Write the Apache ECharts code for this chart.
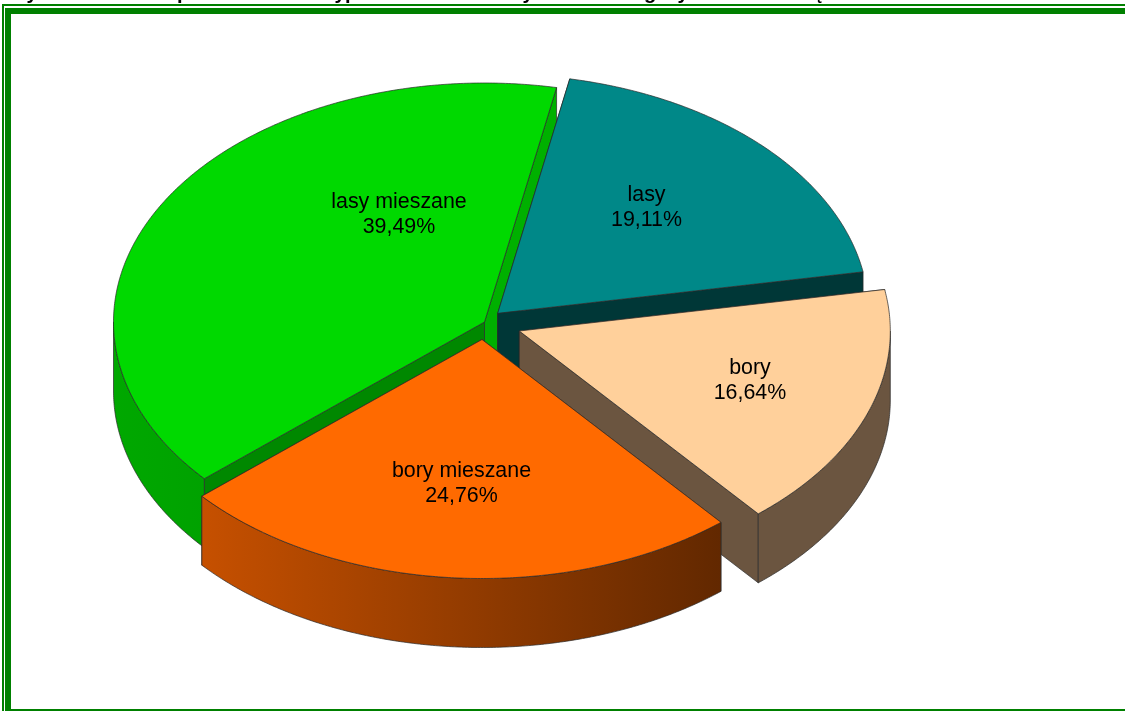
<!DOCTYPE html>
<html>
<head>
<meta charset="utf-8">
<style>html,body{margin:0;padding:0;background:#fff}#c{width:1125px;height:711px}</style>
<script src="https://cdn.jsdelivr.net/npm/echarts@6/dist/echarts.min.js"></script>
</head>
<body>
<div id="c"></div>
<script>
// DATA (clockwise, and also back-to-front drawing order)
const categories = ['lasy mieszane', 'lasy', 'bory', 'bory mieszane'];
const shares = [39.49, 19.11, 16.64, 24.76];

// Only the descender tips of the cropped heading are visible
const headingGlyphs = ['y', 'p', 'y', 'p', 'y', 'g', 'y', 'ę'];
const headingGlyphX = [32, 183, 340, 351, 528, 650, 683, 818];

// STYLE / LAYOUT
const firstSliceAngle = -130.96;
const radiusX = 371, radiusY = 239, depth = 69;
const sliceCenters = [[484.5, 322], [497.7, 313.3], [519.3, 331], [482, 339.5]];
const labelCenters = [[399, 214.5], [646.5, 207.5], [750, 380.5], [461.5, 483.5]];
const topColors = ['#00d900', '#008888', '#ffd09b', '#ff6a00'];
const startWallColors = ['#008800', '#003737', '#6b5540', '#a84400'];
const endWallColors = ['#00b000', '#003737', '#6b5540', '#a84400'];
const outerWallColors = [['#00a800', '#00a200'], ['#003737', '#003737'], ['#6b5540', '#6b5540'], ['#c65000', '#622800']];
const edgeColor = '#2a2a2a';
const frameColor = '#008000';

const total = shares.reduce((a, b) => a + b, 0);
const angleStarts = [];
shares.reduce((acc, v, i) => { angleStarts[i] = acc; return acc + v / total * 360; }, firstSliceAngle);

function pt(c, deg, dy) {
  const r = deg * Math.PI / 180;
  return [c[0] + radiusX * Math.sin(r), c[1] - radiusY * Math.cos(r) + (dy || 0)];
}
function arc(c, a0, a1, dy) {
  const out = [], n = Math.max(2, Math.ceil((a1 - a0) * 2));
  for (let i = 0; i <= n; i++) out.push(pt(c, a0 + (a1 - a0) * i / n, dy));
  return out;
}
function poly(points, fill) {
  return { type: 'polygon', shape: { points }, style: { fill, stroke: edgeColor, lineWidth: 0.7 } };
}
function renderSlice(params, api) {
  const i = params.dataIndex;
  const c = sliceCenters[i];
  const a0 = angleStarts[i], a1 = a0 + api.value(0) / total * 360;
  const down = p => [p[0], p[1] + depth];
  const s = pt(c, a0), e = pt(c, a1);
  const kids = [
    poly([c, s, down(s), down(c)], startWallColors[i]),
    poly([c, e, down(e), down(c)], endWallColors[i])
  ];
  // Outer wall: only the arc facing the viewer
  const ranges = [[90, 270], [-270, -90]];
  ranges.forEach(r => {
    const lo = Math.max(a0, r[0]), hi = Math.min(a1, r[1]);
    if (hi > lo) {
      const upper = arc(c, lo, hi), lower = arc(c, lo, hi, depth).reverse();
      const xs = upper.map(p => p[0]);
      const fill = {
        type: 'linear', global: true,
        x: Math.min.apply(null, xs), y: 0, x2: Math.max.apply(null, xs), y2: 0,
        colorStops: [{ offset: 0, color: outerWallColors[i][0] }, { offset: 1, color: outerWallColors[i][1] }]
      };
      kids.push(poly(upper.concat(lower), fill));
    }
  });
  kids.push(poly([c].concat(arc(c, a0, a1)), topColors[i]));
  kids.push({
    type: 'text',
    style: {
      x: labelCenters[i][0], y: labelCenters[i][1],
      text: categories[i] + '\n' + api.value(0).toFixed(2).replace('.', ',') + '%',
      align: 'center', verticalAlign: 'middle',
      font: '21.4px "Liberation Sans", Arial, sans-serif', lineHeight: 25, fill: '#000'
    }
  });
  return { type: 'group', children: kids };
}

const rect = (x, y, width, height) => ({
  type: 'rect', shape: { x, y, width, height }, style: { fill: frameColor }, silent: true
});
const frame = [
  rect(2, 4, 1123, 2), rect(2, 4, 2, 707),
  rect(5, 8, 1120, 6), rect(5, 8, 6, 703),
  rect(5, 709, 1120, 2)
];
const headingBits = headingGlyphs.map((g, i) => ({
  type: 'text', silent: true,
  style: {
    x: headingGlyphX[i], y: 3, text: g, align: 'center', verticalAlign: 'bottom',
    font: 'bold 20px "Liberation Sans", Arial, sans-serif', fill: '#000'
  }
}));

const chart = echarts.init(document.getElementById('c'), null, { renderer: 'canvas' });
chart.setOption({
  animation: false,
  backgroundColor: '#fff',
  graphic: { elements: frame.concat(headingBits) },
  series: [{
    type: 'custom',
    coordinateSystem: 'none',
    renderItem: renderSlice,
    data: shares.map((v, i) => ({ name: categories[i], value: [v] }))
  }]
});
</script>
</body>
</html>
